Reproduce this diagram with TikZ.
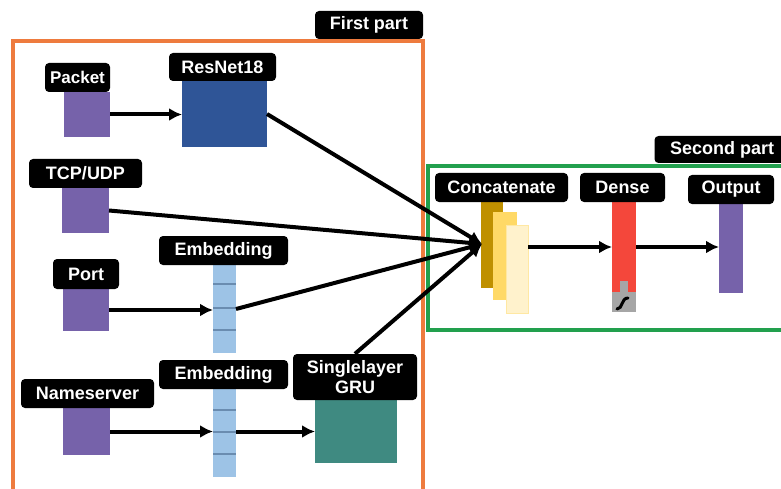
\documentclass[tikz,border=0pt]{standalone}
\usepackage{fontspec}
\setmainfont{Liberation Sans}
\usetikzlibrary{arrows.meta}
\definecolor{inpurple}{HTML}{7662AA}
\definecolor{resblue}{HTML}{2F5597}
\definecolor{embblue}{HTML}{9DC3E6}
\definecolor{embline}{HTML}{6A8CB0}
\definecolor{gruteal}{HTML}{3F8A81}
\definecolor{densered}{HTML}{F4473B}
\definecolor{actgray}{HTML}{A6A6A6}
\definecolor{catdark}{HTML}{BF9000}
\definecolor{catmid}{HTML}{FFD966}
\definecolor{catlight}{HTML}{FFF2CC}
\definecolor{frameorange}{HTML}{EE7B3E}
\definecolor{framegreen}{HTML}{22A04E}
\tikzset{
  tag/.style={fill=black, text=white, rounded corners=4pt, inner sep=0pt,
    font=\bfseries\fontsize{18}{20}\selectfont, align=center},
  layer/.style={inner sep=0pt, outer sep=0pt, draw=none},
  link/.style={line width=4pt, -{Latex[length=13pt,width=13pt]}},
  divider/.style={line width=2.2pt, color=embline}
}
\begin{document}
\begin{tikzpicture}[x=1pt,y=-1pt]
  \useasboundingbox (0,0) rectangle (781,489);
  \clip (0,0) rectangle (781,489);
  % frames
  \draw (13,41) rectangle (423,520)[line width=3.4pt,color=frameorange];
  \draw (428,166) rectangle (800,330)[line width=3.6pt,color=framegreen];
  \node[tag, minimum width=108pt, minimum height=28pt] (firsttag) at (369,25) {First part};
  \node[tag, minimum width=135pt, minimum height=27pt] (secondtag) at (722,149.5) {Second part};
  % inputs
  \node[layer, fill=inpurple, minimum width=46pt, minimum height=45pt] (packet) at (87,114.5) {};
  \node[tag, minimum width=65pt, minimum height=29pt,
        font=\bfseries\fontsize{17}{19}\selectfont] (packettag) at (77.5,77.5) {Packet};
  \node[layer, fill=inpurple, minimum width=47pt, minimum height=45pt] (tcp) at (85.5,210.5) {};
  \node[tag, minimum width=113pt, minimum height=29pt] (tcptag) at (85.5,173.5) {TCP/UDP};
  \node[layer, fill=inpurple, minimum width=46pt, minimum height=42pt] (port) at (86,310) {};
  \node[tag, minimum width=66pt, minimum height=30pt] (porttag) at (86,274) {Port};
  \node[layer, fill=inpurple, minimum width=47pt, minimum height=47pt] (names) at (86.5,431.5) {};
  \node[tag, minimum width=133pt, minimum height=29pt] (namestag) at (87.5,393.5) {Nameserver};
  % first part layers
  \node[layer, fill=resblue, minimum width=85pt, minimum height=66pt] (resnet) at (224.5,114) {};
  \node[tag, minimum width=107pt, minimum height=28pt] (resnettag) at (222.5,67) {ResNet18};
  \node[layer, fill=embblue, minimum width=23pt, minimum height=88pt] (emba) at (224.5,309) {};
  \node[tag, minimum width=129pt, minimum height=29pt] (embatag) at (223.5,250.5) {Embedding};
  \foreach \y in {284,308,330}
    \draw[divider] (emba.west |- 0,\y) -- (emba.east |- 0,\y);
  \node[layer, fill=embblue, minimum width=23pt, minimum height=88pt] (embb) at (224.5,433) {};
  \node[tag, minimum width=129pt, minimum height=29pt] (embbtag) at (223.5,374.5) {Embedding};
  \foreach \y in {410,432,454}
    \draw[divider] (embb.west |- 0,\y) -- (embb.east |- 0,\y);
  \node[layer, fill=gruteal, minimum width=82pt, minimum height=63pt] (gru) at (356,431.5) {};
  \node[tag, minimum width=124pt, minimum height=46pt] (grutag) at (355,377) {Singlelayer\\GRU};
  % second part layers
  \node[layer, fill=catdark, minimum width=22pt, minimum height=86pt] (concata) at (492,245) {};
  \node[layer, fill=catmid, minimum width=24pt, minimum height=88pt] (concatb) at (505,256) {};
  \node[layer, fill=catlight, draw=catmid!60, line width=0.4pt,
        minimum width=22pt, minimum height=88pt] (concatc) at (517,269) {};
  \node[tag, minimum width=133pt, minimum height=29pt] (concattag) at (501.5,187.5) {Concatenate};
  \node[layer, fill=densered, minimum width=24pt, minimum height=90pt] (dense) at (624,247) {};
  \node[layer, fill=actgray, minimum width=24pt, minimum height=20pt, anchor=north] (act) at (dense.south) {};
  \fill[actgray] (620,281) rectangle (628,292);
  \draw[line width=3pt, line cap=round] (617,309) .. controls (623,309) and (621,298) .. (628,298);
  \node[tag, minimum width=85pt, minimum height=29pt] (densetag) at (622.5,187.5) {Dense};
  \node[layer, fill=inpurple, minimum width=24pt, minimum height=89pt] (output) at (731,248.5) {};
  \node[tag, minimum width=86pt, minimum height=29pt] (outputtag) at (731,189.5) {Output};
  % connectors
  \coordinate (merge) at (482,244);
  \draw[link] (packet.east) -- (packet.east -| resnet.west);
  \draw[link] (port.east) -- (port.east -| emba.west);
  \draw[link] (names.east) -- (names.east -| embb.west);
  \draw[link] (names.east -| embb.east) -- (names.east -| gru.west);
  \draw[link] (resnet.east) -- (merge);
  \draw[link] (tcp.east) -- (merge);
  \draw[link] (emba.east) -- (merge);
  \draw[link] (grutag.north) -- (merge);
  \draw[link] (dense.west -| concatc.east) -- (dense.west);
  \draw[link] (dense.east) -- (dense.east -| output.west);
\end{tikzpicture}
\end{document}
